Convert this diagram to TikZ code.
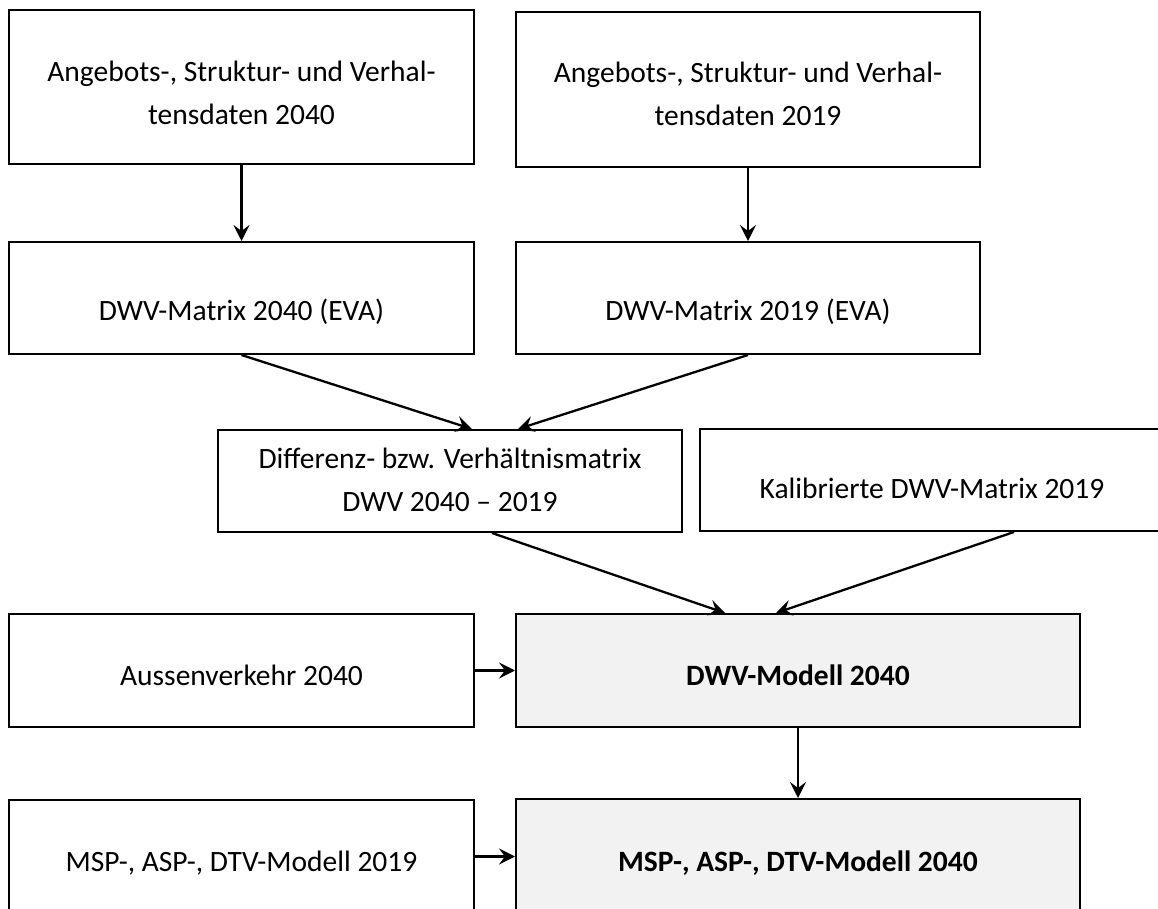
\documentclass[tikz,border=0pt]{standalone}
\usepackage{fontspec}
\setmainfont{Carlito}
\usetikzlibrary{arrows.meta}
\definecolor{modelfill}{HTML}{F2F2F2}
\begin{document}
\begin{tikzpicture}[x=0.5pt,y=-0.5pt,
  box/.style={draw=black, line width=1pt, fill=white, rectangle, inner sep=0pt},
  modelbox/.style={box, fill=modelfill},
  txt/.style={font=\fontsize{14.75}{21.5}\selectfont, align=center, inner sep=0pt},
  flow/.style={line width=1.15pt, -{Stealth[length=8pt, width=8pt, inset=3pt]}}]
\useasboundingbox (0,0) rectangle (1158,909);
\clip (0,0) rectangle (1158,909);

% boxes
\node[box, minimum width=232.5pt, minimum height=77pt] (b1) at (241.5,87) {};
\node[box, minimum width=232pt, minimum height=77.5pt] (b2) at (748,89.5) {};
\node[box, minimum width=232.5pt, minimum height=56pt] (b3) at (241.5,298) {};
\node[box, minimum width=232pt, minimum height=56pt] (b4) at (748,298) {};
\node[box, minimum width=232pt, minimum height=51pt] (d) at (450,481) {};
\node[box, minimum width=232pt, minimum height=51pt] (k) at (932,480) {};
\node[box, minimum width=232.5pt, minimum height=56.5pt] (a) at (241.5,670.5) {};
\node[modelbox, minimum width=282pt, minimum height=56.5pt] (m) at (798,670.5) {};
\node[box, minimum width=232.5pt, minimum height=56.5pt] (s19) at (241.5,856.5) {};
\node[modelbox, minimum width=282pt, minimum height=56.5pt] (s40) at (798,855.5) {};

% texts
\node[txt] (t1) at (241.5,93) {Angebots-, Struktur- und Verhal-\\tensdaten 2040};
\node[txt] (t2) at (748,94) {Angebots-, Struktur- und Verhal-\\tensdaten 2019};
\node[txt, anchor=base] (t3) at (241.5,321) {DWV-Matrix 2040 (EVA)};
\node[txt, anchor=base] (t4) at (748,321) {DWV-Matrix 2019 (EVA)};
\node[txt] (td) at (450,480) {Differenz- bzw. Verhältnismatrix\\DWV 2040 – 2019};
\node[txt, anchor=base] (tk) at (932,499) {Kalibrierte DWV-Matrix 2019};
\node[txt, anchor=base] (ta) at (241.5,685) {Aussenverkehr 2040};
\node[txt, anchor=base, font=\fontsize{14.75}{21.5}\selectfont\bfseries] (tm) at (798,685) {DWV-Modell 2040};
\node[txt, anchor=base] (ts19) at (241.5,871) {MSP-, ASP-, DTV-Modell 2019};
\node[txt, anchor=base, font=\fontsize{14.75}{21.5}\selectfont\bfseries] (ts40) at (798,871) {MSP-, ASP-, DTV-Modell 2040};

% connectors
\draw[flow] (b1.south) -- (b3.north);
\draw[flow] (b2.south) -- (b4.north);
\draw[flow] (b3.south) -- ([xshift=11pt]d.north);
\draw[flow] (b4.south) -- ([xshift=34pt]d.north);
\draw[flow] ([xshift=21pt]d.south) -- ([xshift=-36.5pt]m.north);
\draw[flow] ([xshift=41pt]k.south) -- ([xshift=-11pt]m.north);
\draw[flow] (a.east) -- (m.west);
\draw[flow] (m.south) -- (s40.north);
\draw[flow] (s19.east) -- (s19.east -| s40.west);
\end{tikzpicture}
\end{document}
